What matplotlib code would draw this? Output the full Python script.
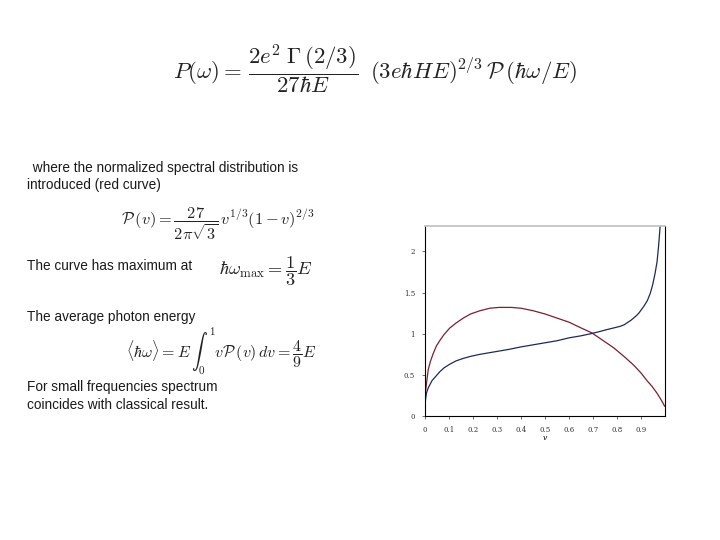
import matplotlib.pyplot as plt

# values
v_red = [0, 0.002, 0.004, 0.008, 0.014, 0.023, 0.035, 0.048, 0.063, 0.08, 0.104,
         0.13, 0.16, 0.19, 0.23, 0.27, 0.31, 0.36, 0.40, 0.45,
         0.5, 0.55, 0.6, 0.65, 0.695, 0.74, 0.785, 0.83, 0.868, 0.9, 0.924, 0.945,
         0.965, 0.98, 0.99, 0.997]
p_red = [0, 0.24, 0.32, 0.42, 0.56, 0.66, 0.76, 0.85, 0.92, 0.99, 1.07,
         1.13, 1.19, 1.24, 1.28, 1.31, 1.32, 1.32, 1.31, 1.28,
         1.24, 1.19, 1.14, 1.07, 1.01, 0.92, 0.83, 0.72, 0.62, 0.52, 0.43, 0.36,
         0.28, 0.21, 0.16, 0.12]

v_blue = [0, 0.001, 0.003, 0.007, 0.014, 0.021, 0.03, 0.042, 0.063, 0.08, 0.104,
          0.13, 0.16, 0.19, 0.23, 0.27, 0.31, 0.35, 0.40, 0.45, 0.5, 0.55, 0.6,
          0.65, 0.69, 0.725, 0.757, 0.785, 0.8125, 0.83, 0.845, 0.858, 0.868,
          0.88, 0.89, 0.9, 0.91, 0.925, 0.9375, 0.948, 0.958, 0.966, 0.972, 0.979]
p_blue = [0, 0.12, 0.2, 0.28, 0.34, 0.38, 0.43, 0.47, 0.54, 0.585, 0.63,
          0.67, 0.70, 0.725, 0.75, 0.77, 0.79, 0.81, 0.84, 0.865, 0.89, 0.915, 0.95,
          0.975, 1.0, 1.025, 1.05, 1.07, 1.09, 1.11, 1.14, 1.165, 1.19,
          1.22, 1.25, 1.29, 1.33, 1.40, 1.49, 1.6, 1.74, 1.88, 2.06, 2.32]

xticks = [0, 0.1, 0.2, 0.3, 0.4, 0.5, 0.6, 0.7, 0.8, 0.9]
yticks = [0, 0.5, 1, 1.5, 2]

plt.rcParams['mathtext.fontset'] = 'cm'
fig = plt.figure(figsize=(7.2, 5.4), dpi=100)

txt = dict(family=['Liberation Sans', 'DejaVu Sans'], fontsize=9.8, color='#1a1a1a')
eq = dict(ha='center', va='center', color='#222222')

fig.text(0.521, 0.872,
         r'$P(\omega)=\,\dfrac{2e^2\;\Gamma\,(2/3)}{27\hbar E}\;\;(3e\hbar HE)^{2/3}\,\mathcal{P}\,(\hbar\omega/E)$',
         fontsize=16.4, **eq)

fig.text(0.040, 0.682, ' where the normalized spectral distribution is', **txt)
fig.text(0.038, 0.650, 'introduced (red curve)', **txt)
fig.text(0.303, 0.585,
         r'$\mathcal{P}\,(v)=\dfrac{27}{2\pi\sqrt{3}}\,v^{1/3}(1-v)^{2/3}$',
         fontsize=11.8, **eq)

fig.text(0.038, 0.500, 'The curve has maximum at', **txt)
fig.text(0.369, 0.497, r'$\hbar\omega_{\rm max}=\dfrac{1}{3}E$',
         fontsize=13.2, **eq)

fig.text(0.038, 0.405, 'The average photon energy', **txt)
fig.text(0.307, 0.350,
         r'$\langle\hbar\omega\rangle=E\,\int_0^1 v\mathcal{P}\,(v)\,dv=\dfrac{4}{9}E$',
         fontsize=11.5, **eq)

fig.text(0.038, 0.275, 'For small frequencies spectrum', **txt)
fig.text(0.038, 0.243, 'coincides with classical result.', **txt)

ax = fig.add_axes([0.590, 0.2296, 0.334, 0.352])
ax.plot(v_red, p_red, color='#7a2030', lw=0.9)
ax.plot(v_blue, p_blue, color='#1c2a5a', lw=0.9)
ax.set_xlim(0, 1)
ax.set_ylim(0, 2.31)
ax.set_xticks(xticks)
ax.set_xticklabels(['0', '0.1', '0.2', '0.3', '0.4', '0.5', '0.6', '0.7', '0.8', '0.9'])
ax.set_yticks(yticks)
ax.set_yticklabels(['0', '0.5', '1', '1.5', '2'])
ax.tick_params(labelsize=5, length=2, width=0.5, colors='#333333', pad=5)
for lab in ax.get_xticklabels() + ax.get_yticklabels():
    lab.set_family(['DejaVu Serif'])
ax.set_xlabel('v', fontsize=5.5, family='DejaVu Serif', style='italic', labelpad=0)
for s in ['left', 'right', 'bottom']:
    ax.spines[s].set_linewidth(0.8)
    ax.spines[s].set_color('black')
ax.spines['top'].set_color('#c0c0c0')
ax.spines['top'].set_linewidth(1.2)

fig.savefig('out.png', dpi=100)
